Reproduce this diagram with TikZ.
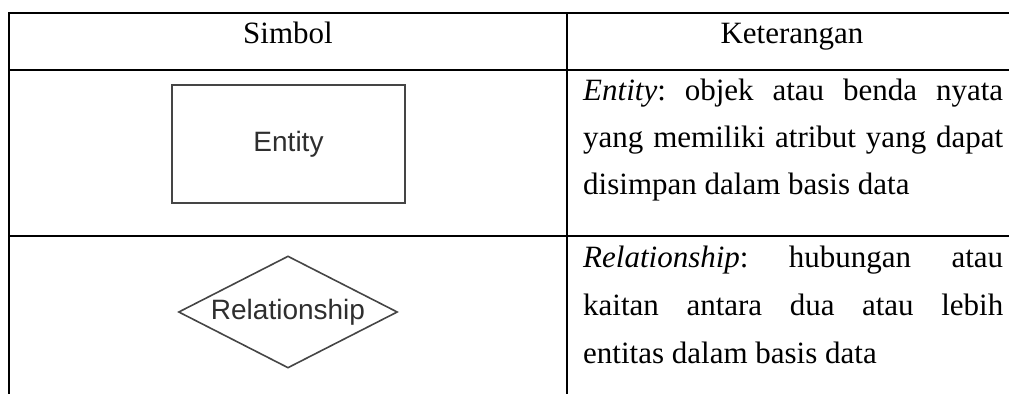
\documentclass[tikz,border=0pt]{standalone}
\usepackage{fontspec}
\setmainfont{Liberation Serif}
\newfontfamily\shapefont{Liberation Sans}
\usetikzlibrary{shapes.geometric}
\frenchspacing
\definecolor{symline}{HTML}{454545}
\definecolor{symtext}{HTML}{2E2E2E}
\tikzset{
  rulestyle/.style={line width=2pt, draw=black},
  headtext/.style={anchor=base, inner sep=0pt, font=\fontsize{31}{31}\selectfont},
  desc/.style={anchor=base west, inner sep=0pt, font=\fontsize{31}{31}\selectfont},
  symfont/.style={text=symtext, font=\shapefont\fontsize{28}{28}\selectfont},
  entitybox/.style={symfont, rectangle, draw=symline, line width=2pt,
    minimum width=233pt, minimum height=118pt, inner sep=0pt},
  relbox/.style={symfont, diamond, draw=symline, line width=1.6pt, aspect=1.955,
    minimum width=219pt, minimum height=112pt, inner sep=0pt},
}
% justified line of fixed width
\newcommand{\jline}[1]{\makebox[420pt][s]{#1}}
\begin{document}
\begin{tikzpicture}[x=1pt, y=-1pt]
  \useasboundingbox (0,0) rectangle (1009,394);

  % table rules
  \draw[rulestyle] (8,13) -- (1009,13);
  \draw[rulestyle] (8,70) -- (1009,70);
  \draw[rulestyle] (8,236) -- (1009,236);
  \draw[rulestyle] (9,12) -- (9,394);
  \draw[rulestyle] (567,12) -- (567,394);

  % header
  \node[headtext] (hsym) at (288,43) {Simbol};
  \node[headtext] (hket) at (792,43) {Keterangan};

  % symbols
  \node[entitybox] (entity) at (288.5,144) {Entity};
  \node[relbox] (rel) at (288,312) {Relationship};

  % descriptions
  \node[desc] (e1) at (583,100) {\jline{\textit{Entity}: objek atau benda nyata}};
  \node[desc] (e2) at (583,147) {\jline{yang memiliki atribut yang dapat}};
  \node[desc] (e3) at (583,194) {disimpan dalam basis data};

  \node[desc] (r1) at (583,267) {\jline{\textit{Relationship}: hubungan atau}};
  \node[desc] (r2) at (583,315) {\jline{kaitan antara dua atau lebih}};
  \node[desc] (r3) at (583,363) {entitas dalam basis data};
\end{tikzpicture}
\end{document}
